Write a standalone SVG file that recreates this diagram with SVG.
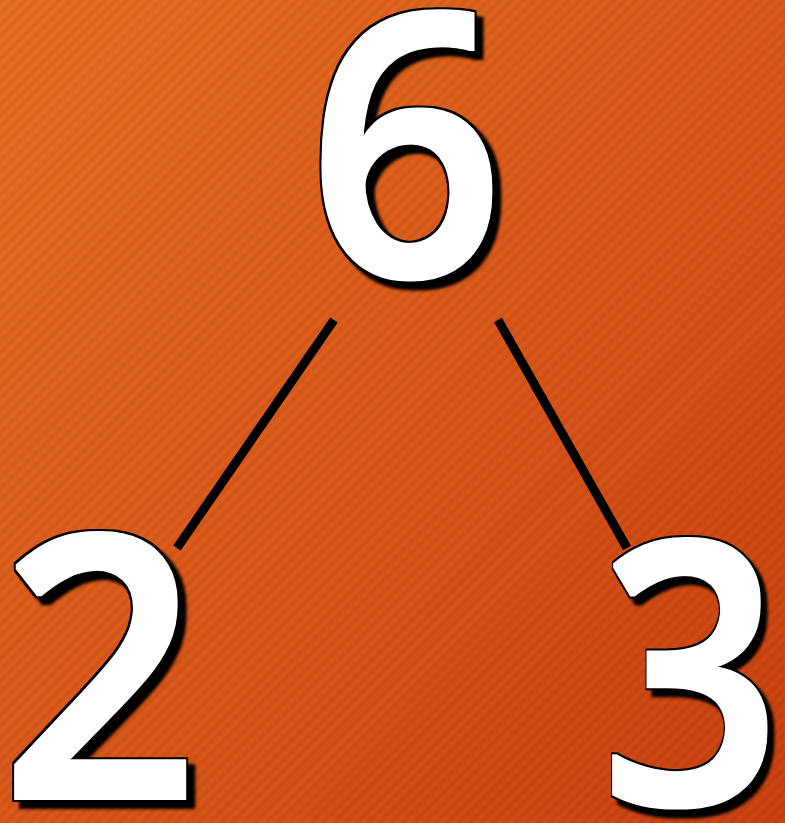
<svg xmlns="http://www.w3.org/2000/svg" width="785" height="823" viewBox="0 0 785 823">
  <defs>
    <linearGradient id="bg" x1="0" y1="0" x2="1" y2="1">
      <stop offset="0" stop-color="#E7711F"/>
      <stop offset="0.5" stop-color="#DA581A"/>
      <stop offset="1" stop-color="#CB4110"/>
    </linearGradient>
    <pattern id="stripes" width="8" height="8" patternUnits="userSpaceOnUse" patternTransform="rotate(45)">
      <rect x="0" y="0" width="4" height="8" fill="#000" opacity="0.05"/>
    </pattern>
    <filter id="digit" x="-20%" y="-20%" width="150%" height="150%" color-interpolation-filters="sRGB">
      <feMorphology in="SourceAlpha" operator="dilate" radius="2.2" result="thick"/>
      <feMorphology in="SourceAlpha" operator="dilate" radius="3.8" result="outer"/>
      <feOffset in="outer" dx="7" dy="7" result="off"/>
      <feGaussianBlur in="off" stdDeviation="1.8" result="shadow"/>
      <feFlood flood-color="#ffffff" result="white"/>
      <feComposite in="white" in2="thick" operator="in" result="face"/>
      <feMerge>
        <feMergeNode in="shadow"/>
        <feMergeNode in="outer"/>
        <feMergeNode in="face"/>
      </feMerge>
    </filter>
    <style>
      .num { font-family: "Open Sans", "DejaVu Sans", sans-serif; font-weight: 600; font-size: 366px; text-anchor: middle; fill: #fff; }
      .edge { stroke: #000; stroke-width: 9; fill: none; }
    </style>
  </defs>
  <rect width="785" height="823" fill="url(#bg)"/>
  <rect width="785" height="823" fill="url(#stripes)"/>
  <g id="connectors">
    <line class="edge" x1="334" y1="320" x2="177" y2="548"/>
    <line class="edge" x1="498" y1="320" x2="627" y2="548"/>
  </g>
  <g id="node-6" filter="url(#digit)" transform="translate(406 276) scale(0.94 1)">
    <text class="num" x="0" y="0">6</text>
  </g>
  <g id="node-2" filter="url(#digit)" transform="translate(100 798) scale(0.95 1)">
    <text class="num" x="0" y="0">2</text>
  </g>
  <g id="node-3" filter="url(#digit)" transform="translate(691 804) scale(0.86 1)">
    <text class="num" x="0" y="0">3</text>
  </g>
</svg>
